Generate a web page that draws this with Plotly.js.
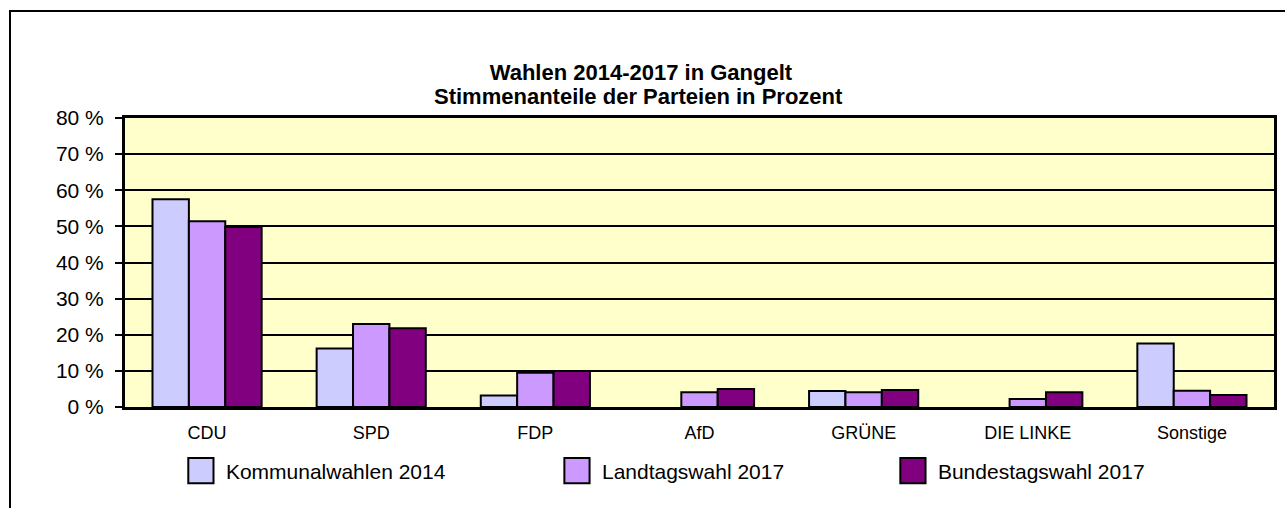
<!DOCTYPE html>
<html>
<head>
<meta charset="utf-8">
<script src="https://cdn.plot.ly/plotly-3.0.1.min.js"></script>
<style>
  html, body { margin: 0; padding: 0; background: #ffffff; overflow: hidden; }
  #chart { width: 1285px; height: 508px; position: relative; }
  #frame { position: absolute; left: 9px; top: 10px; width: 1400px; height: 700px;
           border: 2px solid #000; pointer-events: none; box-sizing: border-box; }
  g.scrollbox { clip-path: none !important; }
  .legendpoints path { transform-box: fill-box; transform-origin: center;
                       transform: translate(15px, 0) scale(2.1); vector-effect: non-scaling-stroke; }
</style>
</head>
<body>
<div id="chart"></div>
<div id="frame"></div>
<script>
const parties = ["CDU", "SPD", "FDP", "AfD", "GRÜNE", "DIE LINKE", "Sonstige"];
const kommunal2014 = [57.5, 16.2, 3.2, null, 4.4, null, 17.6];
const landtag2017 = [51.4, 23.0, 9.5, 4.1, 4.1, 2.2, 4.5];
const bundestag2017 = [49.8, 21.8, 10.0, 5.0, 4.7, 4.1, 3.3];
const seriesNames = ["Kommunalwahlen 2014", "Landtagswahl 2017", "Bundestagswahl 2017"];
const titleLines = ["Wahlen 2014-2017 in Gangelt", "Stimmenanteile der Parteien in Prozent"];
const yTicks = [0, 10, 20, 30, 40, 50, 60, 70, 80];

const colors = ["#CCCCFF", "#CC99FF", "#800080"];
const values = [kommunal2014, landtag2017, bundestag2017];
const legendIds = ["legend", "legend2", "legend3"];

const traces = values.map((v, i) => ({
  type: "bar",
  name: seriesNames[i],
  x: parties,
  y: v,
  legend: legendIds[i],
  marker: { color: colors[i], line: { color: "#000000", width: 2 } },
  hoverinfo: "x+y+name"
}));

const font = "Arial, 'Liberation Sans', sans-serif";
const legendBase = {
  orientation: "h", yanchor: "middle", xanchor: "left",
  font: { family: font, size: 21, color: "#000" },
  bgcolor: "rgba(0,0,0,0)", borderwidth: 0
};

const layout = {
  width: 1285, height: 508,
  margin: { l: 125, r: 11, t: 118, b: 101, pad: 0 },
  paper_bgcolor: "rgba(0,0,0,0)",
  plot_bgcolor: "#FFFFCC",
  barmode: "group",
  bargap: 0.335,
  bargroupgap: 0,
  title: {
    text: "<b>" + titleLines[0] + "</b>",
    font: { family: font, size: 22, color: "#000" },
    xref: "container", x: 0.4988, xanchor: "center",
    yref: "container", y: 0.8583, yanchor: "middle"
  },
  annotations: [{
    text: "<b>" + titleLines[1] + "</b>",
    font: { family: font, size: 22, color: "#000" },
    xref: "paper", x: 0.4465, xanchor: "center",
    yref: "paper", y: 1.0727, yanchor: "middle",
    showarrow: false
  }],
  xaxis: {
    type: "category",
    showline: true, linecolor: "#000", linewidth: 3, mirror: true,
    ticks: "", showgrid: false,
    ticklabelstandoff: 7,
    tickfont: { family: font, size: 18, color: "#000" },
    fixedrange: true
  },
  yaxis: {
    range: [0, 80],
    tickvals: yTicks,
    ticktext: yTicks.map(t => t + " %"),
    showline: true, linecolor: "#000", linewidth: 3, mirror: true,
    showgrid: true, gridcolor: "#000", gridwidth: 2,
    ticks: "outside", ticklen: 7, tickwidth: 2, tickcolor: "#000",
    ticklabelstandoff: 7,
    tickfont: { family: font, size: 21, color: "#000" },
    zeroline: false,
    fixedrange: true
  },
  legend: Object.assign({}, legendBase, { x: 0.0530, y: -0.2215 }),
  legend2: Object.assign({}, legendBase, { x: 0.3803, y: -0.2215 }),
  legend3: Object.assign({}, legendBase, { x: 0.6727, y: -0.2215 }),
  showlegend: true
};

Plotly.newPlot("chart", traces, layout, { displayModeBar: false });
</script>
</body>
</html>
